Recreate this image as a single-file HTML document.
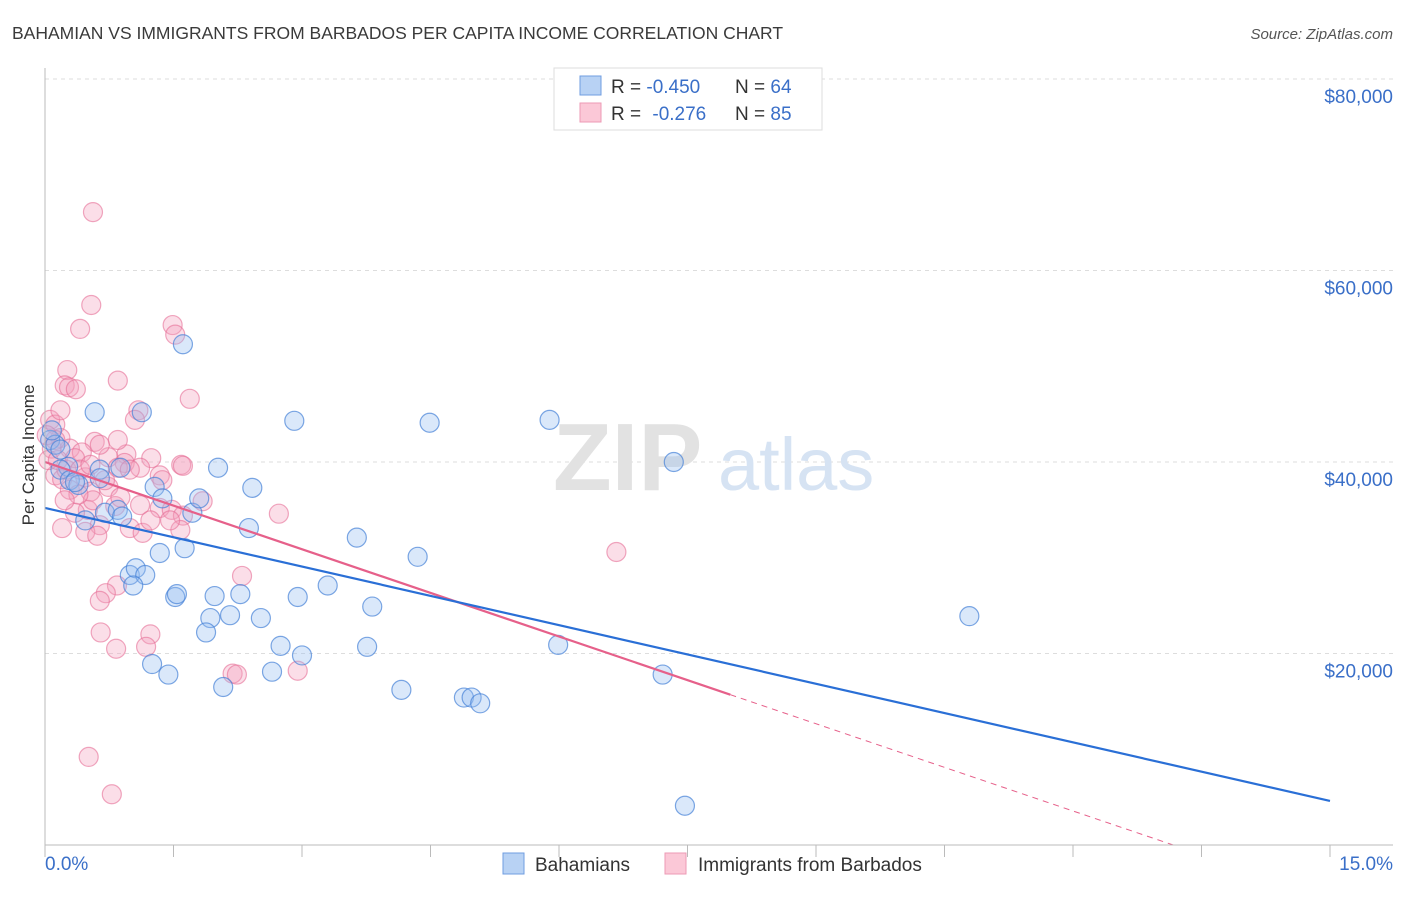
<!DOCTYPE html>
<html><head><meta charset="utf-8">
<style>
body{margin:0;background:#fff;font-family:"Liberation Sans",sans-serif;}
svg text{font-family:"Liberation Sans",sans-serif;}
</style></head>
<body>
<svg id="chart" width="1406" height="892" viewBox="0 0 1406 892" xmlns="http://www.w3.org/2000/svg">
<text x="12" y="39" font-size="17.5" fill="#3a3a3a">BAHAMIAN VS IMMIGRANTS FROM BARBADOS PER CAPITA INCOME CORRELATION CHART</text>
<text x="1393" y="39" font-size="15" fill="#555" font-style="italic" text-anchor="end">Source: ZipAtlas.com</text>
<g id="grid"></g>
<g>
<text x="553" y="490" font-size="96" fill="#e2e2e2" font-family="Liberation Serif" font-weight="bold">ZIP</text>
<text x="718" y="490" font-size="74" fill="#d6e3f3">atlas</text>
</g>
<g id="points"></g>
<g id="lines"></g>
<g id="axes"></g>
<text transform="translate(34,455) rotate(-90)" font-size="17" fill="#333" text-anchor="middle">Per Capita Income</text>
<g>
<rect x="554" y="68" width="268" height="62" fill="#fff" stroke="#ddd"/>
<rect x="580" y="76" width="21" height="19" fill="#b8d2f4" stroke="#6f9de0"/>
<rect x="580" y="103" width="21" height="19" fill="#fbc8d7" stroke="#ec9ab4"/>
<text x="611" y="93" font-size="19" fill="#333">R = <tspan fill="#3a6fc8">-0.450</tspan><tspan x="735">N = </tspan><tspan fill="#3a6fc8">64</tspan></text>
<text x="611" y="120" font-size="19" fill="#333">R = <tspan fill="#3a6fc8" dx="6">-0.276</tspan><tspan x="735">N = </tspan><tspan fill="#3a6fc8">85</tspan></text>
</g>
<g>
<rect x="503" y="853" width="21" height="21" fill="#b8d2f4" stroke="#6f9de0"/>
<text x="535" y="871" font-size="19" fill="#333">Bahamians</text>
<rect x="665" y="853" width="21" height="21" fill="#fbc8d7" stroke="#ec9ab4"/>
<text x="698" y="871" font-size="19" fill="#333">Immigrants from Barbados</text>
</g>
</svg>
<script>
const blueX=[0.58,0.27,0.18,0.64,0.88,0.64,0.29,0.39,0.47,0.70,0.85,0.90,1.13,1.28,1.37,1.61,1.63,1.34,1.72,1.80,2.02,2.42,2.38,0.99,1.06,1.17,1.03,1.52,1.54,1.25,1.44,1.98,1.93,1.88,2.16,2.28,2.52,2.08,2.65,2.75,2.95,3.00,2.91,3.30,3.64,3.82,3.76,4.16,4.35,4.49,4.89,4.98,5.08,5.89,5.99,7.34,7.21,7.47,10.79,0.06,0.12,0.08,0.18,0.35];
const blueY=[45200,39500,39200,39200,39400,38300,38100,37600,33900,34700,35000,34300,45200,37400,36200,52300,31000,30500,34700,36200,39400,37300,33100,28200,28900,28200,27100,25900,26200,18900,17800,26000,23700,22200,24000,26200,23700,16500,18100,20800,25900,19800,44300,27100,32100,24900,20700,16200,30100,44100,15400,15400,14800,44400,20900,40000,17800,4100,23900,42300,41800,43300,41300,37900];
const pinkX=[0.56,0.54,0.41,1.49,1.52,0.26,0.23,0.28,0.36,0.85,1.69,1.09,1.05,0.06,0.12,0.18,0.58,0.08,0.29,0.43,0.74,0.95,1.24,1.59,1.61,0.93,0.85,1.11,1.34,0.12,0.20,0.47,0.74,0.29,0.53,1.84,1.11,0.82,0.50,1.34,1.48,1.61,2.73,0.35,0.20,0.64,0.99,0.47,0.61,1.14,1.58,0.84,0.71,0.64,2.30,0.65,1.23,0.83,1.18,2.19,2.24,2.95,6.67,0.51,0.78,0.04,0.15,0.25,0.35,0.41,0.53,0.70,0.88,1.23,0.56,0.39,0.23,0.12,0.18,0.02,1.46,0.99,0.85,1.37,0.64];
const pinkY=[66100,56400,53900,54300,53300,49600,48000,47800,47600,48500,46600,45400,44400,44400,43900,42500,42100,41400,41400,41000,40500,40800,40400,39700,39600,39900,39400,39400,38600,38600,38200,38400,37400,37100,36900,35900,35500,35400,35000,35200,35000,34400,34600,34700,33100,33400,33100,32700,32300,32600,32900,27100,26300,25500,28100,22200,22000,20500,20700,17900,17800,18200,30600,9200,5300,40200,40200,39200,40400,39200,39700,38100,36300,33900,36000,36600,36000,42300,45400,42800,33900,39200,42300,38100,41800];
const yTicks=[20000,40000,60000,80000];
const yTickLabels=["$20,000","$40,000","$60,000","$80,000"];
const xTicks=[0,1.5,3,4.5,6,7.5,9,10.5,12,13.5,15];
const blueTrendX=[0,15], blueTrendY=[35200,4600];
const pinkTrendX=[0,8.0], pinkTrendY=[40000,15700];
const pinkDashX=[8.0,13.17], pinkDashY=[15700,0];

const NS="http://www.w3.org/2000/svg";
const X=v=>45+v*(1330-45)/15;
const Y=v=>845-v*(191.5/20000);
function mk(parent,tag,attrs){const e=document.createElementNS(NS,tag);for(const k in attrs)e.setAttribute(k,attrs[k]);document.getElementById(parent).appendChild(e);return e;}

yTicks.forEach((t,i)=>{
  const g=mk('grid','line',{x1:45,x2:1393,y1:Y(t),y2:Y(t),stroke:'#ddd','stroke-dasharray':'4,4'});
  
  
  const tx=mk('axes','text',{x:1393,y:Y(t)+24,'font-size':19,fill:'#3a6fc8','text-anchor':'end'});
  tx.textContent=yTickLabels[i];
  
  
});
let a=mk('axes','line',{x1:45,x2:45,y1:68,y2:845,stroke:'#bbb'});


a=mk('axes','line',{x1:45,x2:1393,y1:845,y2:845,stroke:'#bbb'});


xTicks.forEach(t=>{
  const l=mk('axes','line',{x1:X(t),x2:X(t),y1:845,y2:857,stroke:'#bbb'});
  
  
});
let xl=mk('axes','text',{x:45,y:870,'font-size':19,fill:'#3a6fc8'});xl.textContent='0.0%';


xl=mk('axes','text',{x:1393,y:870,'font-size':19,fill:'#3a6fc8','text-anchor':'end'});xl.textContent='15.0%';



pinkX.forEach((v,i)=>{
  const c=mk('points','circle',{cx:X(v),cy:Y(pinkY[i]),r:9.5,fill:'rgba(244,160,188,0.35)',stroke:'rgba(230,110,150,0.6)','stroke-width':1.2});
  
  
});
blueX.forEach((v,i)=>{
  const c=mk('points','circle',{cx:X(v),cy:Y(blueY[i]),r:9.5,fill:'rgba(150,190,240,0.35)',stroke:'rgba(70,130,215,0.7)','stroke-width':1.2});
  
  
});
let ln=mk('lines','line',{x1:X(pinkDashX[0]),y1:Y(pinkDashY[0]),x2:X(pinkDashX[1]),y2:Y(pinkDashY[1]),stroke:'#e6608a','stroke-width':1,'stroke-dasharray':'6,5'});


ln=mk('lines','line',{x1:X(pinkTrendX[0]),y1:Y(pinkTrendY[0]),x2:X(pinkTrendX[1]),y2:Y(pinkTrendY[1]),stroke:'#e6608a','stroke-width':2.2});


ln=mk('lines','line',{x1:X(blueTrendX[0]),y1:Y(blueTrendY[0]),x2:X(blueTrendX[1]),y2:Y(blueTrendY[1]),stroke:'#2a6fd6','stroke-width':2.2});


</script>
</body></html>
